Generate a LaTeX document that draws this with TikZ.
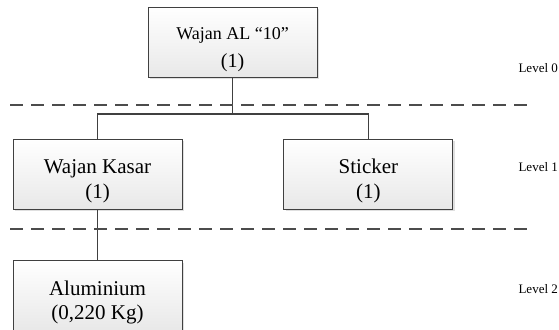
\documentclass[tikz,border=0pt]{standalone}
\usepackage{fontspec}
\setmainfont{Liberation Serif}
\usetikzlibrary{positioning,shadows}

% strut that pushes the box text a little down
\newcommand{\lowtext}[1]{\rule{0pt}{#1}}

\begin{document}
\begin{tikzpicture}
      [ x=1pt, y=-1pt,
        part/.style={draw=black!75, line width=0.9pt, rectangle,
          minimum width=169pt, minimum height=70pt, inner sep=0pt,
          align=center, top color=white, bottom color=black!9,
          drop shadow={shadow xshift=2pt, shadow yshift=-2pt, fill=black!25},
          font=\fontsize{21}{24.5}\selectfont},
        link/.style={draw=black!75, line width=1.2pt},
        levelline/.style={draw=black!70, line width=1.3pt, dash pattern=on 13pt off 8pt},
        leveltag/.style={font=\fontsize{13}{15}\selectfont, anchor=west}
      ]
      \useasboundingbox (0,0) rectangle (559,329);

      \node[part]             (wajan)                           at (232.5,42)
        {\fontsize{18}{28}\selectfont \lowtext{27pt}Wajan AL “10”\\[3pt] \fontsize{20}{28}\selectfont (1)};
      \node[part]             (kasar)                           at (97.5,174)  {\lowtext{28pt}Wajan Kasar\\(1)};
      \node[part]             (sticker)  [right=101pt of kasar]                {\lowtext{28pt}Sticker\\(1)};
      \node[part]             (alu)      [below=51pt of kasar]                 {\lowtext{28pt}Aluminium\\(0,220 Kg)};

      \node[leveltag]         (lvl0)                            at (515,68)    {Level 0};
      \node[leveltag]         (lvl1)                            at (515,167)   {Level 1};
      \node[leveltag]         (lvl2)                            at (515,289)   {Level 2};

      \coordinate (split) at (wajan.south |- 0,114);

      \path[link] (wajan.south) -- (split) -| (kasar.north)
                  (split) -| (sticker.north)
                  (kasar.south) -- (alu.north);

      \draw[levelline] (10,105) -- (527,105);
      \draw[levelline] (10,229) -- (527,229);
\end{tikzpicture}
\end{document}
